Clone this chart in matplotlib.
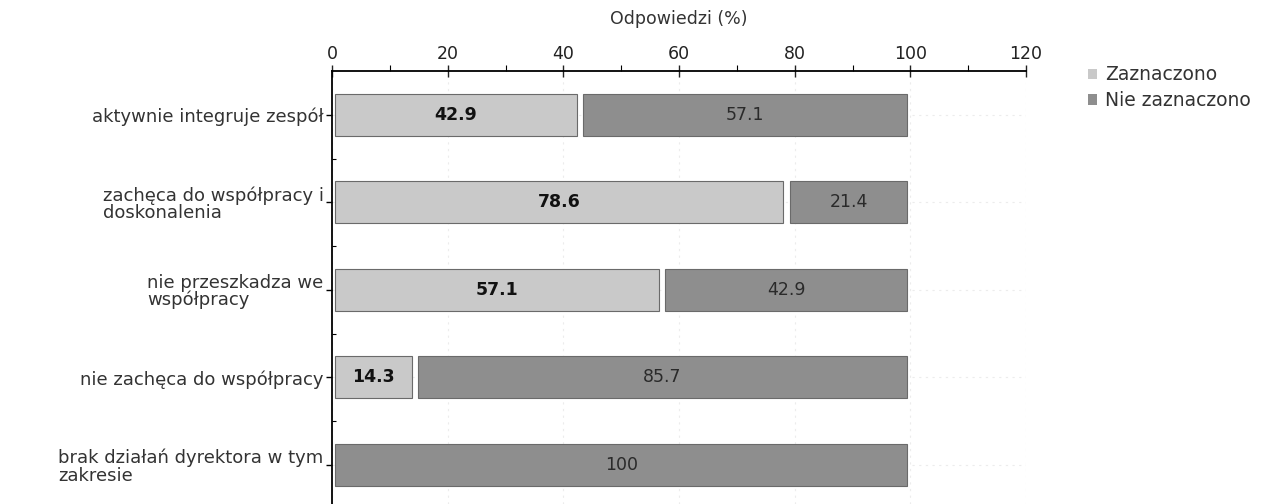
import matplotlib.pyplot as plt
import numpy as np
from matplotlib.ticker import MultipleLocator

CATEGORIES = [
    "aktywnie integruje zespół",
    "zachęca do współpracy i\ndoskonalenia",
    "nie przeszkadza we\nwspółpracy",
    "nie zachęca do współpracy",
    "brak działań dyrektora w tym\nzakresie",
]
SERIES = ["Zaznaczono", "Nie zaznaczono"]
ZAZNACZONO = [42.9, 78.6, 57.1, 14.3, 0.0]
NIE_ZAZNACZONO = [57.1, 21.4, 42.9, 85.7, 100.0]

COLORS = ["#c9c9c9", "#8e8e8e"]
TEXT_COLORS = ["#111111", "#2a2a2a"]
GAP = 1.1  # visual gap between segments, in axis units

plt.rcParams["font.family"] = "DejaVu Sans"

fig = plt.figure(figsize=(12.71, 5.04), dpi=100)
ax = fig.add_axes([332 / 1271, 0.0, (1026 - 332) / 1271, 1 - 71 / 504])

y = np.arange(len(CATEGORIES))
left = np.zeros(len(CATEGORIES))
for vals, color, tcol, name in zip([ZAZNACZONO, NIE_ZAZNACZONO], COLORS, TEXT_COLORS, SERIES):
    vals = np.array(vals)
    mask = vals > 0
    ax.barh(y[mask], vals[mask] - GAP, left=left[mask] + GAP / 2, height=0.48,
            color=color, edgecolor="#6a6a6a", linewidth=0.8, label=name, zorder=3)
    for yi, l, v in zip(y[mask], left[mask], vals[mask]):
        ax.text(l + v / 2, yi, f"{v:g}", ha="center", va="center", fontsize=12.5,
                color=tcol, fontweight="bold" if tcol == "#111111" else "normal", zorder=4)
    left += vals

ax.set_xlim(0, 120)
ax.set_ylim(4.446, -0.5)
ax.xaxis.tick_top()
ax.xaxis.set_label_position("top")
ax.xaxis.set_major_locator(MultipleLocator(20))
ax.xaxis.set_minor_locator(MultipleLocator(10))
ax.tick_params(axis="x", which="major", direction="inout", length=8, width=1,
               labelsize=12.5, colors="#222222", pad=2)
ax.tick_params(axis="x", which="minor", direction="out", length=4, width=0.8)
ax.set_xlabel("Odpowiedzi (%)", fontsize=12.5, color="#333333", labelpad=15)

ax.set_yticks(y)
ax.set_yticklabels(CATEGORIES, fontsize=13, color="#333333", linespacing=0.95,
                   multialignment="left")
ax.set_yticks(y[:-1] + 0.5, minor=True)
ax.tick_params(axis="y", which="major", direction="out", length=4, width=1, pad=2)
ax.tick_params(axis="y", which="minor", direction="in", length=3, width=0.8)

for s in ["right", "bottom"]:
    ax.spines[s].set_visible(False)
ax.spines["top"].set_linewidth(1.3)
ax.spines["left"].set_linewidth(1.3)

ax.grid(True, axis="x", color="#ececec", linewidth=0.8, linestyle=(0, (2, 4)), zorder=0)
ax.grid(True, axis="y", color="#ececec", linewidth=0.8, linestyle=(0, (2, 4)), zorder=0)
ax.set_axisbelow(True)

leg = fig.legend(loc="upper left", bbox_to_anchor=(1080 / 1271, 1 - 58 / 504),
                 frameon=False, fontsize=13.5, handlelength=0.5, handleheight=0.5,
                 handletextpad=0.45, labelspacing=0.35, labelcolor="#333333", borderaxespad=0)
for p in leg.get_patches():
    p.set_edgecolor("none")

fig.savefig("out.png", dpi=100)
